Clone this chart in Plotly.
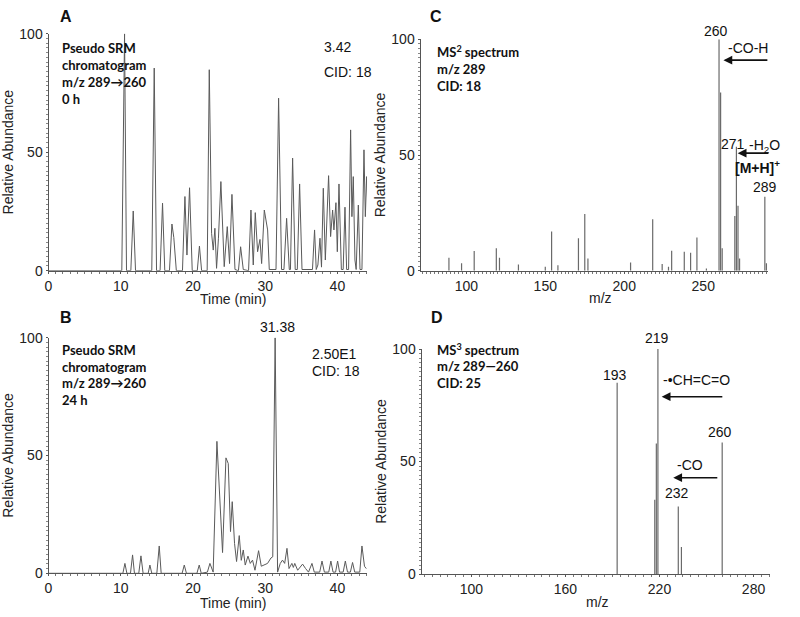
import plotly.graph_objects as go

# ---------------- data ----------------
# Panel A: pseudo SRM chromatogram, 0 h
time_a = [0, 10.15, 10.53, 10.8, 11.4, 11.73, 12.05, 14.3, 14.64, 14.96, 15.45, 15.79, 16.1,
          16.75, 17.09, 17.35, 17.7, 18.55, 18.89, 19.17, 19.53, 19.9, 20.6, 20.9, 21.2,
          21.97, 22.26, 22.58, 22.81, 23.04, 23.27, 23.53, 23.87, 24.33, 24.75, 25.07, 25.4,
          25.82, 26.3, 26.6, 26.97, 27.7, 28.03, 28.35, 28.63, 28.95, 29.28, 29.51, 29.88,
          30.1, 30.34, 30.57, 31.5, 31.86, 32.27, 32.6, 32.97, 33.34, 33.5, 33.8, 34.16,
          34.45, 34.77, 35.1, 36.55, 36.84, 37.07, 37.3, 37.59, 37.8, 38.05, 38.33, 38.78,
          39.06, 39.34, 39.52, 39.8, 39.99, 40.22, 40.55, 40.8, 41.05, 41.28, 41.55, 41.83,
          42.01, 42.2, 42.43, 42.6, 42.9, 43.13, 43.4, 43.68, 43.87, 44.05, 44.2]
abund_a = [0, 0, 100, 0, 0, 25.2, 0, 0, 85.5, 0, 0, 28.5, 0,
           0, 19.7, 14, 0, 0, 31.3, 6.6, 35, 0, 0, 10.4, 0,
           0, 84.8, 15.8, 8.7, 17.9, 1, 13.7, 37.6, 1.7, 18.6, 3, 32.2,
           0.5, 0, 10.1, 0.5, 0, 25.6, 2.4, 24.5, 8, 13.2, 3, 25.6,
           20.7, 17.2, 0.5, 0.5, 72.8, 0.5, 0.5, 22.1, 0.5, 0.5, 47.5, 0.5,
           0.5, 36.6, 0.5, 0.5, 17.2, 0.5, 2.4, 13.7, 1.5, 34.8, 4.5, 40.1,
           14.4, 25.6, 17.2, 28.7, 8, 36.6, 0.5, 0.5, 26.8, 0.5, 0.5, 59.4,
           22.8, 39.7, 4.5, 0.5, 27.7, 0.5, 0.5, 51, 22.8, 39.7, 28.5]

# Panel B: pseudo SRM chromatogram, 24 h
time_b = [0, 10.3, 10.58, 10.85, 11.35, 11.64, 11.9, 12.5, 12.8, 13.1, 13.8, 14.04, 14.3,
          15.0, 15.33, 15.6, 18.5, 18.8, 19.1, 20.55, 20.87, 21.15, 22.0, 22.35, 22.8,
          23.32, 24.1, 24.57, 24.89, 25.2, 25.44, 25.76, 26.04, 26.41, 26.69, 26.97, 27.24,
          27.62, 27.94, 28.25, 28.59, 29.09, 29.46, 29.9, 30.33, 30.8, 31.05, 31.38, 31.72,
          32.09, 32.4, 32.7, 33.02, 33.3, 33.7, 33.9, 34.1, 34.5, 35.18, 35.6, 36.0,
          36.48, 36.8, 37.55, 37.87, 38.2, 38.8, 39.1, 39.4, 39.75, 40.03, 40.3, 40.8,
          41.1, 41.4, 41.8, 42.1, 42.4, 43.1, 43.4, 43.75, 44.0]
abund_b = [0, 0, 4.2, 0, 0, 7.8, 0, 0, 7.4, 0, 0, 3.5, 0,
           0, 11.6, 0, 0, 3.5, 0, 0, 3.5, 0, 0.5, 4.2, 0.5,
           56, 8.8, 49, 46.6, 17.7, 30.4, 12.7, 5, 16, 5.5, 9.9, 3.5,
           7.3, 4.2, 5.6, 1.3, 9.6, 3.0, 3.5, 4.2, 6.5, 7, 100, 0.5,
           4.2, 5.6, 4.2, 10.6, 2, 4.2, 2.5, 4.2, 1.3, 3.9, 2, 0.5,
           4.2, 0.5, 0.5, 5.2, 0.5, 0.5, 5.2, 0.5, 0.5, 5.2, 0.5, 0.5,
           5.2, 0.5, 0.5, 4.6, 0.5, 0.5, 11.6, 3, 2]

# Panel C: MS2 spectrum of m/z 289
mz_c = [89, 97, 105, 119, 121, 133, 150, 154, 158, 171, 175, 177, 204, 218, 224, 228, 230,
        238, 242, 246, 252, 260, 261, 262, 270, 271, 272, 273, 289, 290]
int_c = [5.6, 3.2, 8.5, 9.7, 5.6, 2.7, 1.7, 16.9, 2.4, 14, 24.5, 5.3, 3.5, 22.2, 2.9, 1.7, 8.6,
         8.2, 7.8, 14.4, 1, 100, 77, 9.7, 23.6, 53.6, 28.1, 5.3, 32, 3.2]

# Panel D: MS3 spectrum of m/z 289 -> 260
mz_d = [193, 217, 218, 219, 232, 234, 260]
int_d = [85, 33, 58, 100, 30, 12, 58.5]

# ---------------- helpers ----------------
LINE = "#5a5a5a"
FONT = "Liberation Sans, Arial, sans-serif"
BOLD_FONT = "Lato, Open Sans, sans-serif"


def sticks(mz, inten):
    xs, ys = [], []
    for m, v in zip(mz, inten):
        xs += [m, m, None]
        ys += [0, v, None]
    return xs, ys


fig = go.Figure()
fig.add_trace(go.Scatter(x=time_a, y=abund_a, mode="lines", xaxis="x", yaxis="y",
                         line=dict(color=LINE, width=1), hoverinfo="skip"))
fig.add_trace(go.Scatter(x=time_b, y=abund_b, mode="lines", xaxis="x2", yaxis="y2",
                         line=dict(color=LINE, width=1), hoverinfo="skip"))
xc, yc = sticks(mz_c, int_c)
fig.add_trace(go.Scatter(x=xc, y=yc, mode="lines", xaxis="x3", yaxis="y3",
                         line=dict(color="#6a6a6a", width=1.2), hoverinfo="skip"))
xd, yd = sticks(mz_d, int_d)
fig.add_trace(go.Scatter(x=xd, y=yd, mode="lines", xaxis="x4", yaxis="y4",
                         line=dict(color="#6a6a6a", width=1.2), hoverinfo="skip"))


def xax(domain, rng, tickvals, minor_dtick, anchor):
    return dict(domain=domain, range=rng, tickvals=tickvals, anchor=anchor, automargin=False,
                showline=True, linecolor="#555", linewidth=1, showgrid=False, zeroline=False,
                ticks="outside", ticklen=2, tickcolor="#555",
                minor=dict(ticks="outside", ticklen=2, dtick=minor_dtick, tickcolor="#777", showgrid=False),
                tickfont=dict(family=FONT, size=14, color="#222"))


def yax(domain, anchor):
    return dict(domain=domain, range=[0, 100], tickvals=[0, 50, 100], anchor=anchor, automargin=False,
                showline=True, linecolor="#555", linewidth=1, showgrid=False, zeroline=False,
                ticks="outside", ticklen=2, tickcolor="#555",
                minor=dict(ticks="outside", ticklen=2, dtick=2, tickcolor="#888", showgrid=False),
                tickfont=dict(family=FONT, size=14, color="#222"),
                title=dict(text="Relative Abundance", font=dict(family=FONT, size=14, color="#222"), standoff=2))


W, H = 800, 617
px = lambda v: v / W
py = lambda v: 1 - v / H

fig.update_layout(
    width=W, height=H, margin=dict(l=0, r=0, t=0, b=0, autoexpand=False),
    paper_bgcolor="white", plot_bgcolor="white", showlegend=False,
    xaxis=xax([px(48.5), px(367)], [0, 44.1], [0, 10, 20, 30, 40], 1, "y"),
    yaxis=yax([py(270.7), py(33.7)], "x"),
    xaxis2=xax([px(48.5), px(367)], [0, 44.1], [0, 10, 20, 30, 40], 1, "y2"),
    yaxis2=yax([py(573.3), py(337.7)], "x2"),
    xaxis3=xax([px(420.5), px(768)], [71, 291], [100, 150, 200, 250], 2.5, "y3"),
    yaxis3=yax([py(270.7), py(39.3)], "x3"),
    xaxis4=xax([px(421.5), px(770)], [68.2, 290.5], [100, 160, 220, 280], 5, "y4"),
    yaxis4=yax([py(574), py(349)], "x4"),
)

ann = []


def ptext(text, x, y, size=13, bold=False, anchor="left", family=None, color="#111"):
    ann.append(dict(text=text, x=px(x), y=py(y), xref="paper", yref="paper", showarrow=False,
                    xanchor=anchor, yanchor="middle",
                    font=dict(family=family or (BOLD_FONT if bold else FONT), size=size, color=color)))


def arrow(x_tip, x_tail, y, xr, yr):
    ann.append(dict(text=" ", x=x_tip, y=y, ax=x_tail, ay=y, xref=xr, yref=yr, axref=xr, ayref=yr,
                    showarrow=True, arrowhead=2, arrowsize=1.1, arrowwidth=1.6, arrowcolor="#111"))


# x-axis titles
ptext("Time (min)", 233, 299, size=14, anchor="center", color="#222")
ptext("Time (min)", 233, 603, size=14, anchor="center", color="#222")
ptext("m/z", 600, 298, size=14, anchor="center", color="#222")
ptext("m/z", 597, 602, size=14, anchor="center", color="#222")

# panel letters
for letter, x, y in [("A", 66, 17), ("B", 66, 317), ("C", 436, 17), ("D", 437, 317)]:
    ptext("<b>%s</b>" % letter, x, y, size=16, anchor="center", family=FONT)

# Panel A text
for i, t in enumerate(["Pseudo SRM", "chromatogram", "m/z 289\u2192260", "0 h"]):
    ptext("<b>%s</b>" % t, 60, 48 + 17 * i, size=13, bold=True)
ptext("3.42", 322, 47, size=14)
ptext("CID: 18", 322, 72, size=14)

# Panel B text
for i, t in enumerate(["Pseudo SRM", "chromatogram", "m/z 289\u2192260", "24 h"]):
    ptext("<b>%s</b>" % t, 60, 350 + 16.5 * i, size=13, bold=True)
ptext("2.50E1", 310, 354, size=14)
ptext("CID: 18", 310, 371, size=14)
ptext("31.38", 277, 327, size=14, anchor="center")

# Panel C text
for i, t in enumerate(["MS<sup>2</sup> spectrum", "m/z 289", "CID: 18"]):
    ptext("<b>%s</b>" % t, 435, 52 + 17 * i, size=13, bold=True)
ptext("260", 716, 31, size=14, anchor="center")
ptext("-CO-H", 748, 48, size=14, anchor="center")
arrow(262.8, 292.5, 91, "x3", "y3")
ptext("271", 733, 144, size=14, anchor="center")
ptext("-H<sub>2</sub>O", 764, 146, size=14, anchor="center")
arrow(271.8, 293.2, 50.8, "x3", "y3")
ptext("<b>[M+H]<sup>+</sup></b>", 757, 167, size=14, anchor="center")
ptext("289", 765, 187, size=14, anchor="center")

# Panel D text
for i, t in enumerate(["MS<sup>3</sup> spectrum", "m/z 289\u2014260", "CID: 25"]):
    ptext("<b>%s</b>" % t, 435, 349 + 17 * i, size=13, bold=True)
ptext("219", 657, 338, size=14, anchor="center")
ptext("193", 615, 375, size=14, anchor="center")
ptext("-\u2022CH=C=O", 696, 380, size=14, anchor="center")
arrow(221.4, 262, 78.8, "x4", "y4")
ptext("260", 720, 432, size=14, anchor="center")
ptext("-CO", 690, 465, size=14, anchor="center")
arrow(228.8, 258.8, 42.8, "x4", "y4")
ptext("232", 677, 493, size=14, anchor="center")

fig.update_layout(annotations=ann)
fig.write_html("out.html", config={"displayModeBar": False},
               post_script="document.body.style.margin='0';document.body.style.overflow='hidden';")
